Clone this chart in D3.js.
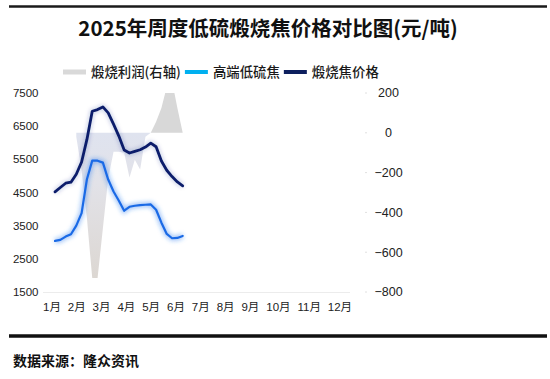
<!DOCTYPE html>
<html><head><meta charset="utf-8">
<script src="https://cdn.jsdelivr.net/npm/d3@7"></script>
<style>body{margin:0;background:#fff}svg{display:block}</style>
</head><body>
<svg id="chart" width="550" height="379"></svg>
<script>
// ---------- data ----------
const weeks = [1,2,3,4,5,6,7,8,9,10,11,12,13,14,15,16,17,18,19,20,21,22,23,24,25];
const calcinedPrice = [4520,4650,4780,4810,5050,5420,6100,6950,7000,7080,6900,6560,6200,5780,5690,5740,5790,5870,5990,5880,5450,5170,4980,4820,4700];
const highEndLowSulfur = [3040,3070,3170,3240,3500,3880,4900,5460,5460,5400,4890,4530,4250,3950,4070,4100,4120,4130,4140,3980,3590,3250,3120,3130,3190];
const calcinationProfit = [null,null,null,null,-20,-190,-430,-730,-730,-480,-230,-95,-95,-100,-225,-135,-185,-20,0,55,125,230,260,125,0];
const months = ["1月","2月","3月","4月","5月","6月","7月","8月","9月","10月","11月","12月"];
const leftTicks = [1500,2500,3500,4500,5500,6500,7500];
const rightTicks = [-800,-600,-400,-200,0,200];
const legendNames = ["煅烧利润(右轴)","高端低硫焦","煅烧焦价格"];
const titleText = "2025年周度低硫煅烧焦价格对比图(元/吨)";
const sourceText = "数据来源：隆众资讯";

// ---------- setup ----------
const svg = d3.select("#chart");
const LAT = "'Liberation Sans', Arial, 'Noto Sans CJK SC', sans-serif";
const CJK = "'Noto Sans CJK SC', 'Liberation Sans', sans-serif";
const plotTop = 93, plotBottom = 292;

const x = d3.scaleLinear().domain([1, 25]).range([55, 182.7]);
const yL = d3.scaleLinear().domain([1500, 7500]).range([plotBottom, plotTop]);
const yR = d3.scaleLinear().domain([-800, 200]).range([plotBottom, plotTop]);

const defs = svg.append("defs");
defs.append("clipPath").attr("id","plotClip").append("rect")
  .attr("x", 40).attr("y", plotTop).attr("width", 320).attr("height", plotBottom - plotTop);
const grad = defs.append("linearGradient").attr("id","negGrad")
  .attr("gradientUnits","userSpaceOnUse").attr("x1",0).attr("x2",0)
  .attr("y1", yR(0)).attr("y2", yR(-730));
grad.append("stop").attr("offset","0").attr("stop-color","#dfe3ef");
grad.append("stop").attr("offset","0.35").attr("stop-color","#e2e2e8");
grad.append("stop").attr("offset","1").attr("stop-color","#dcd7d2");
defs.append("filter").attr("id","glow").attr("x","-20%").attr("y","-20%").attr("width","140%").attr("height","140%")
  .append("feGaussianBlur").attr("stdDeviation", 2.2);

// ---------- frame lines ----------
svg.append("line").attr("x1",9).attr("x2",547).attr("y1",6.5).attr("y2",6.5)
  .attr("stroke","#1a1a1a").attr("stroke-width",2.5);
svg.append("line").attr("x1",9).attr("x2",547).attr("y1",336).attr("y2",336)
  .attr("stroke","#111").attr("stroke-width",3.5);

// ---------- title ----------
svg.append("text").attr("x",268).attr("y",36).attr("text-anchor","middle")
  .attr("font-family",CJK).attr("font-size",20.5).attr("font-weight","bold").attr("fill","#111")
  .text(titleText);

// ---------- source ----------
svg.append("text").attr("x",13).attr("y",366)
  .attr("font-family",CJK).attr("font-size",14).attr("font-weight","bold").attr("fill","#111")
  .text(sourceText);

// ---------- legend ----------
const legColors = ["#d9d9d9","#00b0f0","#0d1f5e"];
let lx = 63;
legendNames.forEach((n,i)=>{
  svg.append("rect").attr("x",lx).attr("y", i===0 ? 69.5 : 70).attr("width",23).attr("height", i===0 ? 5 : 4)
    .attr("fill",legColors[i]);
  lx += 23 + 5;
  const t = svg.append("text").attr("x",lx).attr("y",76.5)
    .attr("font-family",CJK).attr("font-size",13.4).attr("font-weight",500).attr("fill","#1a1a1a").text(n);
  lx += t.node().getComputedTextLength() + 4;
});

// ---------- x axis baseline (faint) ----------
svg.append("line").attr("x1",43).attr("x2",350).attr("y1",plotBottom+0.5).attr("y2",plotBottom+0.5)
  .attr("stroke","#ececec").attr("stroke-width",1);

// ---------- profit area (right axis) ----------
const g = svg.append("g").attr("clip-path","url(#plotClip)");
const pts = weeks.map((w,i)=>({w, v: calcinationProfit[i]}));
const areaNeg = d3.area().defined(d=>d.v!==null).x(d=>x(d.w)).y0(yR(0)).y1(d=>yR(Math.min(0,d.v)));
const areaPos = d3.area().defined(d=>d.v!==null).x(d=>x(d.w)).y0(yR(0)).y1(d=>yR(Math.max(0,d.v)));
g.append("path").datum(pts).attr("d",areaNeg).attr("fill","url(#negGrad)");
g.append("path").datum(pts).attr("d",areaPos).attr("fill","#d8d8d8");

// ---------- lines ----------
const lineL = d3.line().x((d,i)=>x(weeks[i])).y(d=>yL(d));
// blue glow
g.append("path").datum(highEndLowSulfur).attr("d",lineL).attr("fill","none")
  .attr("stroke","#2a7cf0").attr("stroke-width",5).attr("stroke-opacity",0.45).attr("filter","url(#glow)");
g.append("path").datum(highEndLowSulfur).attr("d",lineL).attr("fill","none")
  .attr("stroke","#1a6ae6").attr("stroke-width",2.2).attr("stroke-linejoin","round").attr("stroke-linecap","round");
// dark line
g.append("path").datum(calcinedPrice).attr("d",lineL).attr("fill","none")
  .attr("stroke","#1a2f8a").attr("stroke-width",4).attr("stroke-opacity",0.25).attr("filter","url(#glow)");
g.append("path").datum(calcinedPrice).attr("d",lineL).attr("fill","none")
  .attr("stroke","#0c1d6b").attr("stroke-width",2.8).attr("stroke-linejoin","round").attr("stroke-linecap","round");

// ---------- left axis labels ----------
svg.append("g").selectAll("text").data(leftTicks).join("text")
  .attr("x",38.5).attr("y",d=>yL(d)).attr("dy","0.35em").attr("text-anchor","end")
  .attr("font-family",LAT).attr("font-size",11.5).attr("fill","#222").text(d=>d);

// ---------- right axis labels ----------
const rg = svg.append("g");
rg.selectAll("line").data(rightTicks).join("line")
  .attr("x1",365).attr("x2",367).attr("y1",d=>yR(d)).attr("y2",d=>yR(d))
  .attr("stroke","#e0e0e0").attr("stroke-width",1);
rg.selectAll("text").data(rightTicks).join("text")
  .attr("x",388.5).attr("y",d=>yR(d)).attr("dy","0.35em").attr("text-anchor","middle")
  .attr("font-family",LAT).attr("font-size",12.5).attr("fill","#222")
  .text(d=> d<0 ? "\u2212"+Math.abs(d) : String(d));

// ---------- month labels (flowed) ----------
let mx = 43;
const mg = svg.append("g");
months.forEach(m=>{
  const t = mg.append("text").attr("x",mx).attr("y",311)
    .attr("font-family",LAT).attr("font-size",11.5).attr("fill","#222").text(m);
  mx += t.node().getComputedTextLength() + 6.9;
});
</script>
</body></html>
